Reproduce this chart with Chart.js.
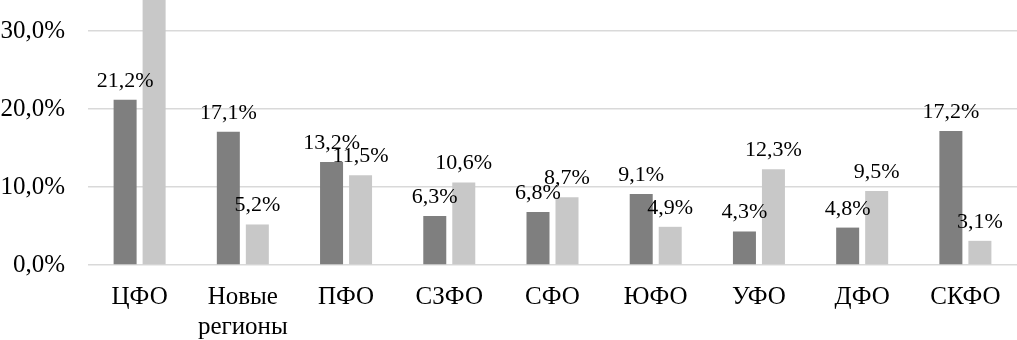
<!DOCTYPE html>
<html>
<head>
<meta charset="utf-8">
<script src="https://cdn.jsdelivr.net/npm/chart.js@4"></script>
<style>
html,body{margin:0;padding:0;background:#fff;}
canvas{display:block;}
</style>
</head>
<body>
<canvas id="c" width="1017" height="340"></canvas>
<script>
const categories = ['ЦФО', ['Новые', 'регионы'], 'ПФО', 'СЗФО', 'СФО', 'ЮФО', 'УФО', 'ДФО', 'СКФО'];
const darkValues = [21.2, 17.1, 13.2, 6.3, 6.8, 9.1, 4.3, 4.8, 17.2];
const lightValues = [35.0, 5.2, 11.5, 10.6, 8.7, 4.9, 12.3, 9.5, 3.1];
const yTicks = [0, 10, 20, 30];
const yMax = 34;

const FONT = "'Liberation Serif', 'Times New Roman', serif";
const fmt = v => v.toFixed(1).replace('.', ',') + '%';

const labelPlugin = {
  id: 'barLabels',
  afterDatasetsDraw(chart) {
    const ctx = chart.ctx;
    ctx.save();
    ctx.font = '22px ' + FONT;
    ctx.fillStyle = '#000';
    ctx.textAlign = 'center';
    ctx.textBaseline = 'alphabetic';
    chart.data.datasets.forEach((ds, di) => {
      const meta = chart.getDatasetMeta(di);
      meta.data.forEach((bar, i) => {
        const v = ds.data[i];
        if (v > yMax) return;
        ctx.fillText(fmt(v), bar.x, bar.y - 13);
      });
    });
    ctx.restore();
  }
};

new Chart(document.getElementById('c'), {
  type: 'bar',
  data: {
    labels: categories,
    datasets: [
      { data: darkValues, backgroundColor: '#7f7f7f', categoryPercentage: 0.562, barPercentage: 0.793 },
      { data: lightValues, backgroundColor: '#c8c8c8', categoryPercentage: 0.562, barPercentage: 0.793 }
    ]
  },
  options: {
    responsive: false,
    animation: false,
    devicePixelRatio: 1,
    layout: { padding: 0 },
    plugins: { legend: { display: false }, tooltip: { enabled: false } },
    scales: {
      x: {
        grid: { display: false, drawTicks: false },
        border: { display: false },
        ticks: { color: '#000', font: { family: FONT, size: 25, lineHeight: 1.2 }, padding: 17, maxRotation: 0, autoSkip: false },
        afterFit(scale) { scale.height = 75; scale.paddingLeft = 0; scale.paddingRight = 0; }
      },
      y: {
        min: 0, max: yMax,
        grid: { color: '#d9d9d9', lineWidth: 1.5, drawTicks: false },
        border: { display: false },
        afterBuildTicks(scale) { scale.ticks = yTicks.map(v => ({ value: v })); },
        ticks: { color: '#000', font: { family: FONT, size: 25 }, padding: 23, callback: v => fmt(v) },
        afterFit(scale) { scale.width = 88; scale.paddingTop = 0; scale.paddingBottom = 0; }
      }
    }
  },
  plugins: [labelPlugin]
});
</script>
</body>
</html>
